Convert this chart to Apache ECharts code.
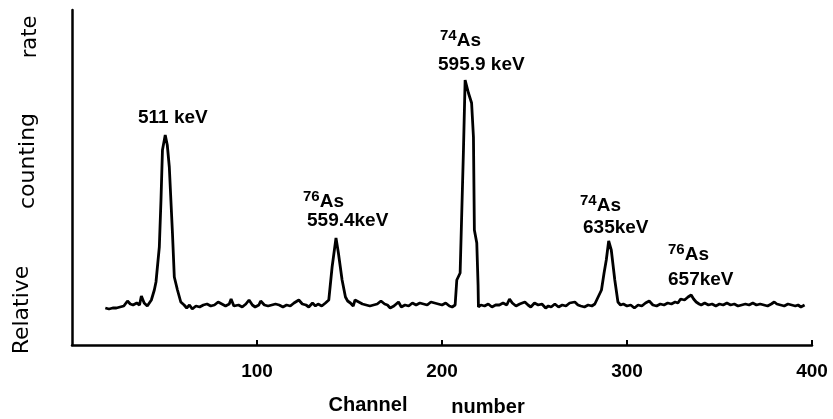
<!DOCTYPE html>
<html>
<head>
<meta charset="utf-8">
<script src="https://cdn.jsdelivr.net/npm/echarts@6/dist/echarts.min.js"></script>
<style>
  html, body { margin: 0; padding: 0; background: #fff; }
  #main { width: 833px; height: 419px; }
</style>
</head>
<body>
<div id="main"></div>
<script>
// channel numbers
var channels = [
  18, 20, 22, 24, 26, 28, 30, 31.5, 33, 35, 36.5, 37.5, 39, 40.7, 42.9, 44.5,
  45.4, 47.2, 48.1, 48.9, 50.4, 51.5, 52.6, 54.3, 55.3, 57, 58.8, 60.6,
  62, 63.5, 65, 67, 69, 71, 73, 75, 77, 79, 81, 83, 85, 86, 87.5, 90, 92, 94,
  95.7, 97.5, 99, 101, 102, 104, 106, 108, 110, 112, 114, 116, 118, 120,
  122.6, 124.5, 126.5, 128, 130, 131.6, 133, 135, 137,
  138.8, 140.6, 142.7, 144, 146, 147.8, 149, 150.5,
  152, 153, 155, 157, 159, 161, 163, 165, 167, 169, 170.5, 172, 174, 176.5,
  178, 180, 182, 184, 186, 188, 190, 192, 194, 196, 198, 200, 202, 204, 205.5,
  207.1, 208, 209.8, 211.6, 212.5, 214.3, 216, 217, 217.5, 218.8, 219.5, 219.7,
  221, 223, 225, 227, 229, 231, 233, 235, 236.5, 238, 240, 242, 244.8, 246.5,
  248, 250, 252, 254, 256, 257.5, 259, 261, 263, 265, 267, 269, 271.8, 273.5,
  275, 277, 279, 281, 282.6,
  283.5, 286.2, 287.6, 288.8, 290.1, 291.5, 293.4, 295.1,
  296.5, 298, 300, 302, 304, 306, 308, 310, 312, 314, 316, 318, 320, 322, 324,
  326, 327.5, 329, 331.1, 333, 334.7, 336, 337.4, 339, 340.1,
  342, 344, 346, 348, 350, 352, 354, 356, 358, 360, 362, 364, 366, 368, 370,
  372, 374, 376, 378, 379.6, 381, 383, 385, 387, 389, 391, 392.5, 394, 396
];
// relative counting rate (arbitrary units)
var counts = [
  37, 36, 37, 37, 38, 39, 44, 41, 40, 42, 40, 49, 42, 39, 45, 55,
  63, 98, 145, 195, 210, 200, 178, 112, 68, 55, 43, 40,
  37, 40, 36, 39, 38, 40, 41, 39, 40, 43, 41, 39, 41, 46, 39, 40, 38, 41,
  45, 40, 38, 40, 44, 40, 39, 40, 41, 40, 38, 40, 39, 42,
  45, 41, 40, 38, 42, 39, 41, 39, 42,
  45, 78, 107, 92, 65, 48, 44, 42,
  39, 45, 43, 41, 40, 39, 40, 41, 44, 41, 40, 37, 39, 43,
  38, 40, 39, 42, 40, 42, 41, 40, 43, 42, 41, 40, 42, 39, 38,
  40, 65, 72, 195, 265, 252, 242, 208, 115, 102, 60, 38,
  40, 39, 41, 38, 40, 40, 42, 40, 46, 42, 39, 41, 43, 40,
  38, 42, 40, 41, 37, 39, 38, 41, 38, 40, 39, 42, 43, 40,
  39, 38, 40, 39, 41,
  40, 55, 72, 85, 104, 95, 65, 43,
  40, 41, 39, 40, 37, 40, 39, 42, 44, 40, 39, 41, 40, 42, 41,
  43, 42, 46, 45, 48, 50, 46, 43, 41, 40,
  42, 40, 41, 39, 41, 40, 42, 40, 41, 39, 40, 41, 40, 42, 40,
  41, 40, 39, 41, 43, 41, 40, 39, 41, 40, 39, 40, 38, 40
];
var xTicks = [100, 200, 300, 400];

var spectrum = channels.map(function (ch, i) { return [ch, counts[i]]; });

var ink = '#000';
var font = '"Liberation Sans", Arial, sans-serif';
var font2 = '"DejaVu Sans", sans-serif';

function label(x, y, text, size, weight, align, rot, fam) {
  return {
    type: 'text', x: x, y: y, rotation: rot || 0,
    style: {
      text: text, fill: ink, font: (weight || 'bold') + ' ' + size + 'px ' + (fam || font),
      textAlign: align || 'left', textVerticalAlign: 'middle'
    }
  };
}

// isotope tag with superscript mass number
function iso(x, y, mass) {
  return {
    type: 'text', x: x, y: y,
    style: {
      text: '{s|' + mass + '}{a|As}', fill: ink,
      textAlign: 'left', textVerticalAlign: 'middle',
      rich: {
        s: { fontSize: 15, fontWeight: 'bold', fontFamily: font, fill: ink, verticalAlign: 'top', lineHeight: 22 },
        a: { fontSize: 19, fontWeight: 'bold', fontFamily: font, fill: ink, verticalAlign: 'bottom', lineHeight: 22 }
      }
    }
  };
}

var chart = echarts.init(document.getElementById('main'));
chart.setOption({
  animation: false,
  backgroundColor: '#fff',
  grid: { left: 72, right: 21, top: 10, bottom: 74 },
  xAxis: {
    type: 'value', min: 0, max: 400, interval: 100,
    axisLine: { lineStyle: { color: ink, width: 2.5 } },
    axisTick: { inside: true, length: 5, lineStyle: { color: ink, width: 2 } },
    axisLabel: {
      showMinLabel: false, color: ink, fontSize: 19, fontWeight: 'bold', fontFamily: font, margin: 17,
      formatter: function (v) { return xTicks.indexOf(v) >= 0 ? String(v) : ''; }
    },
    splitLine: { show: false }
  },
  yAxis: {
    type: 'value', min: 0, max: 335,
    axisLine: { show: true, lineStyle: { color: ink, width: 2.5 } },
    axisTick: { show: false },
    axisLabel: { show: false },
    splitLine: { show: false }
  },
  series: [{
    type: 'line', data: spectrum, showSymbol: false, smooth: false,
    lineStyle: { color: ink, width: 2.8 }
  }],
  graphic: [
    label(138, 118, '511 keV', 19),
    iso(303, 200, '76'),
    label(307, 221, '559.4keV', 19),
    iso(440, 39, '74'),
    label(438, 65, '595.9 keV', 19),
    iso(580, 204, '74'),
    label(583, 228, '635keV', 19),
    iso(668, 253, '76'),
    label(668, 280, '657keV', 19),
    label(368, 405, 'Channel', 20, 'bold', 'center'),
    label(488, 407, 'number', 20, 'bold', 'center'),
    label(22, 310, 'Relative', 22, '500', 'center', Math.PI / 2, font2),
    label(28, 161, 'counting', 22, '500', 'center', Math.PI / 2, font2),
    label(31, 37, 'rate', 21, '500', 'center', Math.PI / 2, font2)
  ]
});
</script>
</body>
</html>
